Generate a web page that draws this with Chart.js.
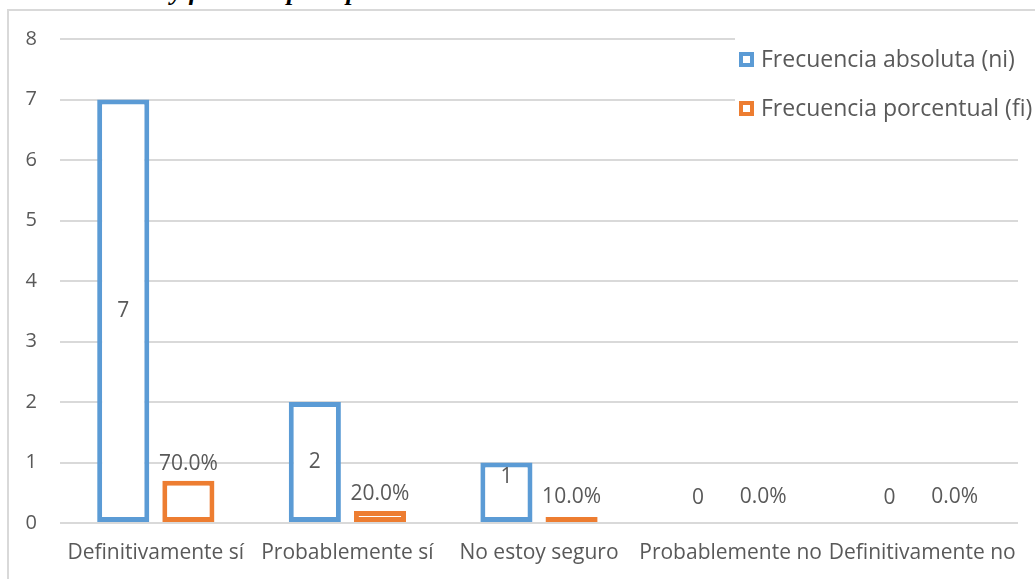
<!DOCTYPE html>
<html lang="es">
<head>
<meta charset="utf-8">
<title>Conocimiento y fondos a presupuestar</title>
<script src="https://cdn.jsdelivr.net/npm/chart.js@4.4.1/dist/chart.umd.min.js"></script>
<style>
  html, body { margin: 0; padding: 0; background: #fff; overflow: hidden; }
  body { width: 1035px; height: 579px; position: relative; }
  #heading {
    position: absolute; left: 14px; top: -23px; margin: 0;
    font: italic bold 26px "Liberation Serif", "DejaVu Serif", serif;
    color: #000; white-space: nowrap;
  }
  #frame {
    position: absolute; left: 7px; top: 9px; width: 1040px; height: 600px;
    border: 2px solid #D9D9D9; box-sizing: border-box;
  }
  #wrap { position: absolute; left: 0; top: 0; width: 1035px; height: 579px; }
</style>
</head>
<body>
<p id="heading">Conocimiento y fondos a presupuestar</p>
<div id="frame"></div>
<div id="wrap"><canvas id="chart"></canvas></div>
<script>
// Categories and series
const categories = ['Definitivamente sí', 'Probablemente sí', 'No estoy seguro', 'Probablemente no', 'Definitivamente no'];
const absoluteCounts = [7, 2, 1, 0, 0];          // Frecuencia absoluta (ni)
const percentShares = [0.7, 0.2, 0.1, 0.0, 0.0]; // Frecuencia porcentual (fi)
const seriesNames = ['Frecuencia absoluta (ni)', 'Frecuencia porcentual (fi)'];
const yTicks = [0, 1, 2, 3, 4, 5, 6, 7, 8];

const BLUE = '#5B9BD5';
const ORANGE = '#ED7D31';
const TEXT = '#595959';
const GRID = '#D9D9D9';
const FONT = '"Open Sans", sans-serif';

// Value labels: counts centred in their bar, percentages just above theirs
const valueLabels = {
  id: 'valueLabels',
  afterDatasetsDraw(chart) {
    const ctx = chart.ctx;
    const y0 = chart.scales.y.getPixelForValue(0);
    ctx.save();
    ctx.font = '21px ' + FONT;
    ctx.fillStyle = TEXT;
    ctx.textAlign = 'center';
    ctx.textBaseline = 'middle';
    chart.getDatasetMeta(0).data.forEach((bar, i) => {
      const v = absoluteCounts[i];
      const cy = v === 0 ? y0 - 25 : Math.min((bar.y + bar.base) / 2, y0 - 46);
      ctx.fillText(String(v), bar.x, cy);
    });
    chart.getDatasetMeta(1).data.forEach((bar, i) => {
      const v = percentShares[i];
      const cy = Math.min(bar.y - 17, y0 - 26);
      ctx.fillText((v * 100).toFixed(1) + '%', bar.x, cy);
    });
    ctx.restore();
  }
};

// Legend box in the upper right corner of the plot
const cornerLegend = {
  id: 'cornerLegend',
  afterDraw(chart) {
    const ctx = chart.ctx;
    ctx.save();
    ctx.fillStyle = '#fff';
    ctx.fillRect(735, 36, 300, 96);
    const rows = [
      { name: seriesNames[0], color: BLUE, y: 60 },
      { name: seriesNames[1], color: ORANGE, y: 109 }
    ];
    rows.forEach(r => {
      ctx.strokeStyle = r.color;
      ctx.lineWidth = 4;
      ctx.strokeRect(741, r.y - 6, 11, 11);
      ctx.fillStyle = TEXT;
      ctx.font = '23px ' + FONT;
      ctx.textAlign = 'left';
      ctx.textBaseline = 'middle';
      ctx.fillText(r.name, 761, r.y);
    });
    ctx.restore();
  }
};

new Chart(document.getElementById('chart'), {
  type: 'bar',
  data: {
    labels: categories,
    datasets: [
      {
        label: seriesNames[0],
        data: absoluteCounts,
        backgroundColor: '#fff',
        borderColor: BLUE,
        borderWidth: 5,
        borderSkipped: false,
        barPercentage: 0.8,
        categoryPercentage: 0.68
      },
      {
        label: seriesNames[1],
        data: percentShares,
        backgroundColor: '#fff',
        borderColor: ORANGE,
        borderWidth: 5,
        borderSkipped: false,
        barPercentage: 0.8,
        categoryPercentage: 0.68
      }
    ]
  },
  options: {
    responsive: true,
    maintainAspectRatio: false,
    animation: false,
    events: [],
    layout: { padding: { left: 8, top: 39, right: 17, bottom: 0 } },
    plugins: {
      legend: { display: false },
      tooltip: { enabled: false }
    },
    scales: {
      x: {
        grid: { display: false, drawTicks: false },
        border: { display: false },
        ticks: { color: TEXT, font: { family: FONT, size: 21 }, padding: 17, maxRotation: 0, autoSkip: false },
        afterFit(s) { s.height = 56; }
      },
      y: {
        min: 0,
        max: 8,
        afterBuildTicks(s) { s.ticks = yTicks.map(v => ({ value: v })); },
        grid: { color: GRID, lineWidth: 2, drawTicks: false },
        border: { display: false },
        ticks: { color: TEXT, font: { family: FONT, size: 20 }, padding: 23 },
        afterFit(s) { s.width = 52; }
      }
    }
  },
  plugins: [valueLabels, cornerLegend]
});
</script>
</body>
</html>
